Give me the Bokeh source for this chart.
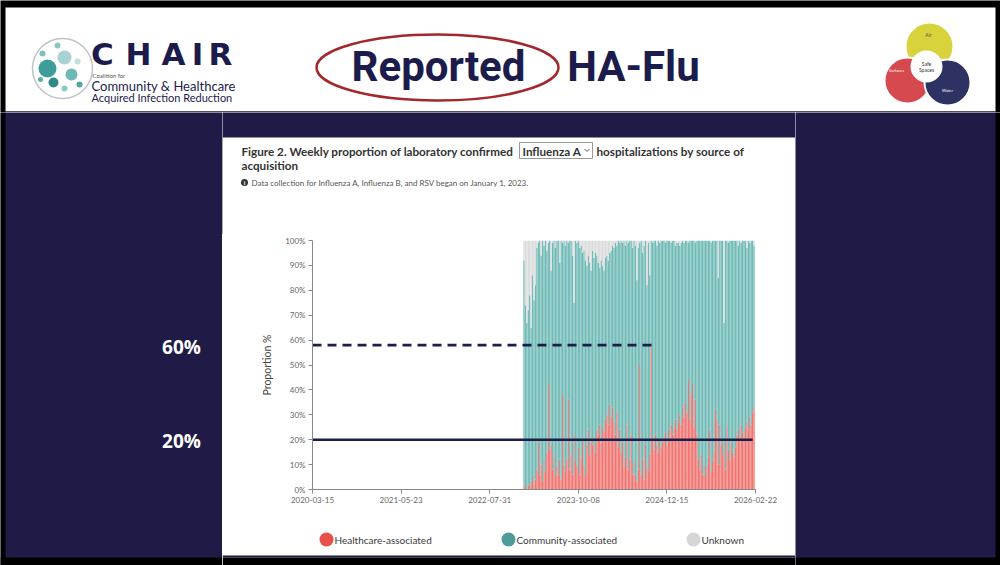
import numpy as np
import pandas as pd
from bokeh.plotting import figure
from bokeh.layouts import column, row
from bokeh.models import (FixedTicker, Range1d, ColumnDataSource, DatetimeTickFormatter,
                          GlobalInlineStyleSheet)
from bokeh.core.properties import value
from bokeh.embed import file_html
from bokeh.resources import INLINE

# ---------------- data ----------------
first_week = "2023-01-15"
healthcare = [2, 1, 0, 2, 1, 3, 5, 2,
              4, 8, 19, 6, 10, 3, 12, 7, 15, 42,
              16, 18, 8, 14, 5, 9, 6, 12, 4, 38,
              10, 7, 12, 36, 8, 14, 6, 22, 11, 9,
              17, 6, 13, 21, 9, 5, 18, 24, 14, 19,
              18, 21, 15, 24, 22, 26, 19, 25, 23, 28,
              30, 26, 34, 29, 33, 27, 22, 31, 17, 24,
              15, 19, 9, 13, 26, 8, 12, 22, 6, 11,
              5, 3, 8, 50, 6, 12, 4, 18, 9, 7,
              14, 57, 20, 16, 22, 18, 15, 21, 17, 19,
              20, 23, 18, 24, 21, 26, 22, 25, 28, 24,
              27, 30, 26, 33, 29, 35, 31, 44, 28, 38,
              42, 25, 36, 22, 12, 8, 14, 6, 10, 5,
              9, 13, 24, 7, 11, 15, 32, 28, 10, 26,
              18, 14, 20, 8, 25, 16, 12, 19, 15, 13,
              17, 22, 24, 20, 26, 23, 21, 25, 27, 24,
              29, 26, 31, 33]
unknown = [8, 26, 33, 28, 22, 35, 14, 24,
           18, 3, 1, 0, 6, 0, 2, 0, 4, 1,
           0, 12, 1, 0, 3, 0, 0, 9, 0, 1,
           0, 2, 0, 1, 0, 0, 6, 25, 0, 1,
           0, 3, 2, 5, 4, 8, 10, 6, 9, 12,
           4, 7, 5, 6, 9, 11, 8, 10, 12, 7,
           6, 8, 5, 4, 2, 3, 1, 2, 0, 1,
           0, 1, 0, 2, 0, 1, 0, 0, 3, 0,
           2, 16, 3, 1, 0, 5, 2, 0, 18, 1,
           14, 0, 1, 0, 0, 2, 0, 1, 0, 0,
           0, 1, 0, 0, 0, 1, 0, 0, 2, 1,
           1, 2, 1, 0, 1, 0, 0, 1, 0, 0,
           0, 0, 1, 0, 0, 0, 0, 0, 0, 0,
           0, 0, 0, 1, 0, 0, 0, 0, 15, 0,
           0, 0, 33, 0, 0, 1, 0, 0, 0, 0,
           0, 0, 2, 0, 1, 0, 0, 0, 3, 0,
           1, 0, 0, 2]
community = [100 - h - u for h, u in zip(healthcare, unknown)]
weeks = pd.date_range(first_week, periods=len(healthcare), freq="7D")

x_tick_labels = ["2020-03-15", "2021-05-23", "2022-07-31", "2023-10-08", "2024-12-15", "2026-02-22"]
y_ticks = [0, 10, 20, 30, 40, 50, 60, 70, 80, 90, 100]

ref_dash_dates = ["2020-03-15", "2024-10-27"]
ref_dash_level = [58, 58]
ref_solid_dates = ["2020-03-15", "2026-02-08"]
ref_solid_level = [20, 20]

series_names = ["Healthcare-associated", "Community-associated", "Unknown"]
bar_colors = ["#F07470", "#70BAB6", "#DADBDC"]
legend_colors = ["#E8504C", "#4E9C99", "#D6D6D6"]

NAVY = "#1F1B46"
TXT_NAVY = "#1C1C4C"
BLACK = "#000000"

def ms(s):
    return pd.Timestamp(s).value / 1e6

# ---------------- helpers for decorative panels (page-pixel coordinates) ----------------
def panel(x0, x1, y0, y1, bg):
    f = figure(width=x1 - x0, height=y1 - y0, output_backend="svg", toolbar_location=None,
               x_range=Range1d(x0, x1), y_range=Range1d(y1, y0),
               x_axis_location=None, y_axis_location=None, min_border=0)
    f.grid.visible = False
    f.outline_line_color = None
    f.background_fill_color = bg
    f.border_fill_color = bg
    return f

def rect(f, x0, x1, y0, y1, color, line=None, lw=1):
    f.quad(left=[x0], right=[x1], top=[y0], bottom=[y1], fill_color=color,
           line_color=line, line_width=lw)

def txt(f, t, X, Y, size, color, style="normal", font="Lato", align="left"):
    f.text(x=[X], y=[Y], text=[t], text_font=value(font), text_font_size=value(f"{size}px"),
           text_font_style=style, text_color=color, text_align=align, text_baseline="middle")

def disc(f, X, Y, r, fill=None, line=None, lw=1):
    f.ellipse(x=[X], y=[Y], width=[2 * r], height=[2 * r],
              fill_color=fill, fill_alpha=1.0 if fill else 0.0,
              line_color=line, line_width=lw)

# ---------------- header ----------------
hd = panel(0, 1000, 0, 112, BLACK)
rect(hd, 5, 995, 7, 111, "white")
rect(hd, 5, 995, 111, 112, NAVY)
disc(hd, 62, 68, 30, fill="white", line="#BFC3C6", lw=1.5)
for (cx, cy, r, c) in [(47, 68, 9, "#3E9C99"), (64, 57, 7, "#A7D2D1"), (71, 74, 6, "#6DB8B5"),
                       (53, 82, 5, "#2F8A88"), (57, 45, 3, "#8CC6C4"), (42, 53, 3, "#7FBFBC"),
                       (77, 61, 3, "#BFE0DF"), (79, 84, 3, "#4FA6A3"), (40, 79, 2.5, "#5CAEAB"),
                       (64, 88, 3, "#8ACAC7")]:
    disc(hd, cx, cy, r, fill=c)
for letter, cx in zip("CHAIR", [102, 138, 173, 197, 220]):
    txt(hd, letter, cx, 53, 31, TXT_NAVY, style="bold", font="DejaVu Sans", align="center")
txt(hd, "Coalition for", 92, 75, 6, "#555555")
txt(hd, "Community & Healthcare", 91, 85, 13, TXT_NAVY)
txt(hd, "Acquired  Infection  Reduction", 91, 97, 11, TXT_NAVY)

hd.ellipse(x=[437], y=[67], width=[242], height=[66], fill_alpha=0,
           line_color="#A3282B", line_width=2.5)
txt(hd, "Reported", 438, 66, 42, TXT_NAVY, style="bold", font="Roboto", align="center")
txt(hd, "HA-Flu", 633, 66, 42, TXT_NAVY, style="bold", font="Roboto", align="center")

disc(hd, 929, 46, 24, fill="#D8D33C", line="white", lw=2)
disc(hd, 907, 80, 23, fill="#D6494E", line="white", lw=2)
disc(hd, 947, 82, 23, fill="#2D3263", line="white", lw=2)
disc(hd, 926, 66, 16, fill="white")
txt(hd, "Safe", 926, 63, 5, "#333333", align="center")
txt(hd, "Spaces", 926, 69, 5, "#333333", align="center")
txt(hd, "Air", 928, 34, 5, "#555555", align="center")
txt(hd, "Surfaces", 896, 70, 4, "white", align="center")
txt(hd, "Water", 947, 90, 4, "white", align="center")

# ---------------- left / right navy panels ----------------
lf = panel(0, 222, 112, 565, NAVY)
rect(lf, 0, 5, 112, 565, BLACK)
rect(lf, 0, 222, 557, 565, BLACK)
txt(lf, "60%", 181, 346, 19, "white", style="bold", font="Open Sans", align="center")
txt(lf, "20%", 181, 440, 19, "white", style="bold", font="Open Sans", align="center")

rf = panel(795, 1000, 112, 565, NAVY)
rect(rf, 995, 1000, 112, 565, BLACK)
rect(rf, 795, 1000, 557, 565, BLACK)

# ---------------- card top (titles) ----------------
ct = panel(222, 795, 112, 234, NAVY)
rect(ct, 222, 795, 137, 234, "white")
txt(ct, "Figure 2. Weekly proportion of laboratory confirmed", 241, 150, 11.7, "#333333", style="bold")
rect(ct, 519, 592, 142, 158, "white", line="#9A9A9A", lw=1)
txt(ct, "Influenza A", 522, 150, 11.7, "#333333", style="bold")
ct.line(x=[584, 586.5, 589], y=[148.5, 151, 148.5], line_color="#555555", line_width=1)
txt(ct, "hospitalizations by source of", 596, 150, 11.7, "#333333", style="bold")
txt(ct, "acquisition", 241, 164, 11.7, "#333333", style="bold")
disc(ct, 244, 182, 3.5, fill="#333333")
txt(ct, "i", 244, 182, 6, "white", style="bold", align="center")
txt(ct, "Data collection for Influenza A, Influenza B, and RSV began on January 1, 2023.",
    251, 182, 8, "#555555")

# ---------------- chart ----------------
FL, FR, FT, FB = 312, 755, 240, 489   # frame edges in page pixels
CX0, CX1, CY0, CY1 = 222, 795, 234, 512
p = figure(width=CX1 - CX0, height=CY1 - CY0, output_backend="svg", toolbar_location=None,
           x_axis_type="datetime",
           x_range=Range1d(ms(x_tick_labels[0]), ms(x_tick_labels[-1])),
           y_range=Range1d(0, 100),
           min_border_left=FL - CX0, min_border_right=CX1 - FR,
           min_border_top=FT - CY0, min_border_bottom=CY1 - FB)
p.border_fill_color = "white"
p.background_fill_color = "white"
p.outline_line_color = None
p.xgrid.visible = False
p.ygrid.visible = False

src = ColumnDataSource(dict(week=weeks, ha=healthcare, comm=community, unk=unknown))
p.vbar_stack(["ha", "comm", "unk"], x="week", width=6.3 * 24 * 3600 * 1000,
             color=bar_colors, line_color=None, source=src)

p.line(x=pd.to_datetime(ref_dash_dates), y=ref_dash_level, line_color="#1B1E4B",
       line_width=2.6, line_dash="9 6")
p.line(x=pd.to_datetime(ref_solid_dates), y=ref_solid_level, line_color="#1B1E4B",
       line_width=2.6)

fmt = "%Y-%m-%d"
p.xaxis.ticker = FixedTicker(ticks=[ms(s) for s in x_tick_labels])
p.xaxis.formatter = DatetimeTickFormatter(milliseconds=fmt, seconds=fmt, minsec=fmt, minutes=fmt,
                                          hourmin=fmt, hours=fmt, days=fmt, months=fmt, years=fmt)
p.yaxis.ticker = FixedTicker(ticks=y_ticks)
p.yaxis.major_label_overrides = {t: f"{t}%" for t in y_ticks}
p.yaxis.axis_label = "Proportion %"
p.yaxis.axis_label_text_font = "Lato"
p.yaxis.axis_label_text_font_size = "10.5px"
p.yaxis.axis_label_text_font_style = "normal"
p.yaxis.axis_label_text_color = "#444444"
p.yaxis.axis_label_standoff = 9
for ax in (p.xaxis, p.yaxis):
    ax.axis_line_color = "#888888"
    ax.major_tick_line_color = "#888888"
    ax.minor_tick_line_color = None
    ax.major_tick_out = 4
    ax.major_tick_in = 0
    ax.major_label_text_font = "Lato"
    ax.major_label_text_font_size = "8px"
    ax.major_label_text_color = "#666666"
    ax.major_label_standoff = 3

# ---------------- legend panel ----------------
lg = panel(222, 795, 512, 565, "white")
rect(lg, 222, 795, 555, 557, NAVY)
rect(lg, 222, 795, 557, 565, BLACK)
legend_x = [326, 508, 693]
for xc, name, c in zip(legend_x, series_names, legend_colors):
    disc(lg, xc, 539, 7, fill=c)
    txt(lg, name, xc + 8, 539, 10, "#3A3A3A")

middle = column(row(ct, spacing=0), row(p, spacing=0), row(lg, spacing=0), spacing=0)
layout = column(hd, row(lf, middle, rf, spacing=0), spacing=0)
layout.stylesheets = [GlobalInlineStyleSheet(css="html, body { background: #ffffff; }")]

open("out.html", "w").write(file_html(layout, INLINE))
